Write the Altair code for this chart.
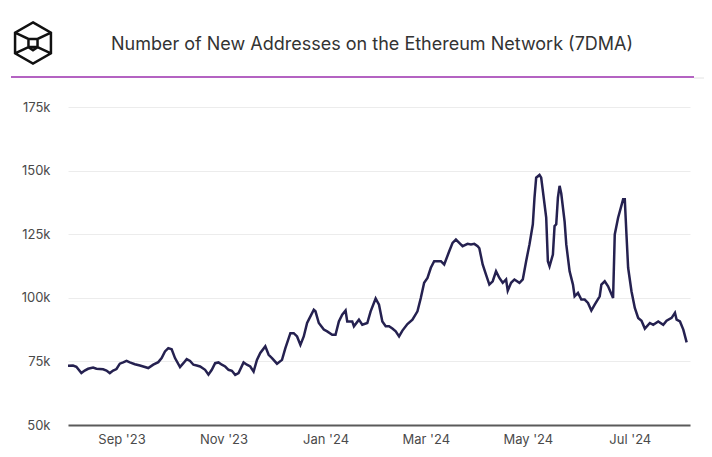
import altair as alt
import pandas as pd

TITLE = "Number of New Addresses on the Ethereum Network (7DMA)"

dates = [
    "2023-07-31", "2023-08-03", "2023-08-05", "2023-08-08", "2023-08-10", "2023-08-12",
    "2023-08-15", "2023-08-17", "2023-08-21", "2023-08-23", "2023-08-25", "2023-08-27",
    "2023-08-29", "2023-08-31", "2023-09-02", "2023-09-04", "2023-09-06", "2023-09-09",
    "2023-09-12", "2023-09-15", "2023-09-17", "2023-09-20", "2023-09-23", "2023-09-25",
    "2023-09-27", "2023-09-29", "2023-10-01", "2023-10-03", "2023-10-06", "2023-10-08",
    "2023-10-10", "2023-10-12", "2023-10-14", "2023-10-16", "2023-10-18", "2023-10-21",
    "2023-10-23", "2023-10-25", "2023-10-27", "2023-10-29", "2023-10-31", "2023-11-02",
    "2023-11-04", "2023-11-06", "2023-11-08", "2023-11-10", "2023-11-13", "2023-11-15",
    "2023-11-17", "2023-11-19", "2023-11-21", "2023-11-23", "2023-11-26", "2023-11-28",
    "2023-11-30", "2023-12-03", "2023-12-06", "2023-12-08", "2023-12-11", "2023-12-13",
    "2023-12-15", "2023-12-17", "2023-12-19", "2023-12-21", "2023-12-22", "2023-12-25",
    "2023-12-26", "2023-12-28", "2023-12-31", "2024-01-02", "2024-01-05", "2024-01-07",
    "2024-01-09", "2024-01-11", "2024-01-13", "2024-01-14", "2024-01-17", "2024-01-18",
    "2024-01-21", "2024-01-23", "2024-01-26", "2024-01-28", "2024-01-31", "2024-02-02",
    "2024-02-04", "2024-02-06", "2024-02-08", "2024-02-10", "2024-02-12", "2024-02-14",
    "2024-02-16", "2024-02-19", "2024-02-22", "2024-02-25", "2024-02-27", "2024-02-29",
    "2024-03-02", "2024-03-04", "2024-03-06", "2024-03-08", "2024-03-10", "2024-03-12",
    "2024-03-15", "2024-03-17", "2024-03-19", "2024-03-21", "2024-03-23", "2024-03-26",
    "2024-03-28", "2024-03-30", "2024-04-01", "2024-04-02", "2024-04-04", "2024-04-06",
    "2024-04-08", "2024-04-10", "2024-04-12", "2024-04-14", "2024-04-16", "2024-04-18",
    "2024-04-19", "2024-04-21", "2024-04-23", "2024-04-26", "2024-04-28", "2024-04-30",
    "2024-05-02", "2024-05-04", "2024-05-05", "2024-05-06", "2024-05-08", "2024-05-09",
    "2024-05-10", "2024-05-12", "2024-05-13", "2024-05-14", "2024-05-16", "2024-05-17",
    "2024-05-18", "2024-05-19", "2024-05-20", "2024-05-21", "2024-05-23", "2024-05-24",
    "2024-05-26", "2024-05-28", "2024-05-29", "2024-05-31", "2024-06-02", "2024-06-04",
    "2024-06-06", "2024-06-08", "2024-06-10", "2024-06-13", "2024-06-14", "2024-06-16",
    "2024-06-18", "2024-06-21", "2024-06-22", "2024-06-24", "2024-06-27", "2024-06-28",
    "2024-06-29", "2024-06-30", "2024-07-02", "2024-07-04", "2024-07-06", "2024-07-08",
    "2024-07-10", "2024-07-13", "2024-07-15", "2024-07-18", "2024-07-21", "2024-07-23",
    "2024-07-26", "2024-07-28", "2024-07-29", "2024-07-31", "2024-08-02", "2024-08-04",
]

new_addresses_k = [
    73.3, 73.4, 72.9, 70.4, 71.4, 72.1,
    72.6, 72.1, 71.9, 71.4, 70.4, 71.4,
    72.0, 74.1, 74.6, 75.2, 74.6, 73.9,
    73.4, 72.8, 72.4, 73.7, 74.7, 76.3,
    78.9, 80.2, 79.8, 76.3, 72.8, 74.3,
    75.9, 75.2, 73.7, 73.4, 73.0, 71.7,
    69.8, 71.7, 74.3, 74.6, 73.7, 73.0,
    71.7, 71.3, 69.7, 70.4, 74.6, 73.7,
    73.0, 71.0, 75.6, 78.3, 80.9, 77.6,
    76.3, 74.1, 75.6, 80.2, 86.1, 86.1,
    84.8, 81.5, 84.8, 90.1, 91.4, 95.3,
    94.7, 90.1, 87.5, 86.8, 85.5, 85.5,
    90.7, 93.4, 95.0, 90.7, 90.7, 88.8,
    91.4, 89.4, 90.1, 94.7, 99.7, 97.3,
    90.7, 88.8, 88.8, 87.9, 86.8, 84.8,
    87.1, 89.7, 91.4, 94.7, 99.9, 105.9,
    107.8, 111.8, 114.4, 114.4, 114.4, 113.1,
    118.3, 121.6, 122.9, 121.6, 120.3, 121.2,
    121.0, 121.2, 120.3, 119.5, 113.1, 109.1,
    105.2, 106.5, 110.4, 107.8, 105.9, 107.2,
    102.8, 105.9, 107.2, 105.9, 107.2, 114.4,
    121.0, 128.9, 139.4, 147.2, 148.3, 147.2,
    142.0, 131.5, 114.4, 112.4, 117.0, 128.2,
    128.9, 139.4, 144.0, 141.0, 130.0, 121.0,
    110.4, 105.2, 100.6, 101.9, 99.3, 99.3,
    98.0, 95.0, 97.3, 100.6, 105.2, 106.5,
    104.5, 99.9, 124.9, 131.5, 138.7, 138.7,
    124.9, 111.8, 102.6, 96.0, 92.1, 91.0,
    87.9, 90.1, 89.4, 90.7, 89.4, 91.0,
    92.1, 94.1, 91.4, 90.7, 87.5, 82.5,
]

y_ticks = [50000, 75000, 100000, 125000, 150000, 175000]
x_ticks = ["2023-09-01", "2023-11-01", "2024-01-01", "2024-03-01", "2024-05-01", "2024-07-01"]

df = pd.DataFrame({"date": dates, "value": [v * 1000 for v in new_addresses_k]})

FONT = "Inter"
LABEL_COLOR = "#4a4a4a"

x_enc = alt.X(
    "date:T",
    scale=alt.Scale(domain=["2023-07-31", "2024-08-06"]),
    axis=alt.Axis(
        title=None,
        values=[alt.DateTime(year=int(d[:4]), month=int(d[5:7]), date=1) for d in x_ticks],
        format="%b '%y",
        grid=False,
        ticks=False,
        domainColor="#5a5a5a",
        domainWidth=2,
        labelPadding=8,
        labelFontSize=13,
        labelColor=LABEL_COLOR,
        labelFont=FONT,
    ),
)
y_enc = alt.Y(
    "value:Q",
    scale=alt.Scale(domain=[50000, 175000], nice=False, zero=False),
    axis=alt.Axis(
        title=None,
        values=y_ticks,
        labelExpr="datum.value / 1000 + 'k'",
        domain=False,
        ticks=False,
        grid=True,
        gridColor="#ececec",
        gridWidth=1,
        labelPadding=18,
        labelFontSize=13,
        labelColor=LABEL_COLOR,
        labelFont=FONT,
    ),
)

line = alt.Chart(df).mark_line(color="#252150", strokeWidth=2.5).encode(x=x_enc, y=y_enc)

one = pd.DataFrame({"t": [TITLE]})

title = alt.Chart(one).mark_text(
    font=FONT, fontSize=18, color="#333333", align="center", baseline="middle"
).encode(text="t:N", x=alt.value(304), y=alt.value(-62))

purple_rule = alt.Chart(one).mark_rule(color="#9b2fae", strokeWidth=1.5).encode(
    x=alt.value(-57), x2=alt.value(626), y=alt.value(-30)
)
gray_rule = alt.Chart(one).mark_rule(color="#e2e2e2", strokeWidth=1).encode(
    x=alt.value(626), x2=alt.value(646), y=alt.value(-29)
)

logo_path = (
    "M0,-1L0.87,-0.5L0.87,0.5L0,1L-0.87,0.5L-0.87,-0.5Z"
    "M-0.87,-0.5L-0.22,-0.2L0.22,-0.2L0.87,-0.5"
    "M-0.22,-0.2L-0.22,0.2L0.22,0.2L0.22,-0.2"
    "M-0.22,0.2L-0.87,0.5M0.22,0.2L0.87,0.5"
    "M-0.22,0.2L0,0.35L0.22,0.2"
)
logo = alt.Chart(one).mark_point(
    shape=logo_path, filled=False, stroke="#111111", strokeWidth=2.5, opacity=1
).encode(x=alt.value(-35), y=alt.value(-64), size=alt.value(1700))

chart = alt.layer(line, title, purple_rule, gray_rule, logo).properties(
    width=622,
    height=318,
    background="white",
    autosize=alt.AutoSizeParams(type="none"),
    padding={"left": 60, "top": 99, "right": 14, "bottom": 25},
).configure_view(stroke=None)

chart.save("out.html", embed_options={"renderer": "svg", "actions": False})
